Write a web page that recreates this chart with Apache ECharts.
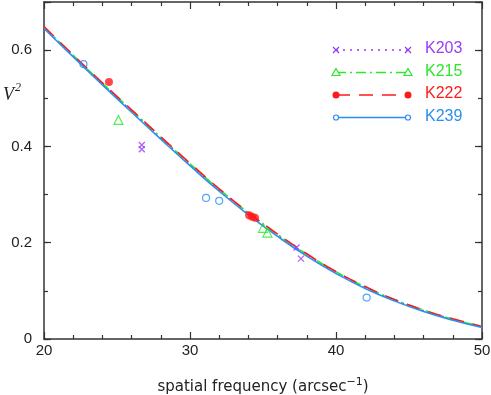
<!DOCTYPE html>
<html>
<head>
<meta charset="utf-8">
<script src="https://cdn.jsdelivr.net/npm/echarts@6/dist/echarts.min.js"></script>
<style>
  html, body { margin: 0; padding: 0; background: #fff; }
  #chart { width: 491px; height: 395px; }
</style>
</head>
<body>
<div id="chart"></div>
<script>
// model curves, sampled every 2 arcsec^-1
const freq = [20, 22, 24, 26, 28, 30, 32, 34, 36, 38, 40, 42, 44, 46, 48, 50];
const k239Model = [0.645, 0.586, 0.528, 0.471, 0.415, 0.360, 0.307, 0.258, 0.213, 0.172, 0.136, 0.105, 0.079, 0.057, 0.039, 0.024];
const k222Model = [0.649, 0.590, 0.532, 0.476, 0.420, 0.365, 0.312, 0.263, 0.218, 0.177, 0.140, 0.109, 0.082, 0.060, 0.042, 0.026];
const k215Model = [0.648, 0.589, 0.531, 0.475, 0.419, 0.364, 0.311, 0.262, 0.217, 0.176, 0.140, 0.108, 0.082, 0.060, 0.041, 0.026];
const k203Model = [0.647, 0.588, 0.530, 0.474, 0.418, 0.363, 0.310, 0.261, 0.216, 0.175, 0.139, 0.107, 0.081, 0.059, 0.041, 0.025];

// measured points [freq, V^2]
const k203Obs = [[26.7, 0.403], [26.7, 0.394], [37.3, 0.190], [37.6, 0.167]];
const k215Obs = [[25.1, 0.455], [35.0, 0.231], [35.3, 0.221]];
const k222Obs = [[24.45, 0.534], [34.05, 0.257], [34.25, 0.254], [34.45, 0.252]];
const k239Obs = [[22.7, 0.571], [31.1, 0.293], [32.0, 0.287], [42.1, 0.086]];

const names = ['K203', 'K215', 'K222', 'K239'];
const colors = ['#9b3cf5', '#2ee62e', '#ff1a1a', '#2a8ff0'];

const axisColor = '#333';
const font = 'Liberation Sans, Arial, sans-serif';

function pairs(ys) {
  return freq.map((f, i) => [f, ys[i]]);
}

const crossPath = 'path://M0,0L10,10M10,0L0,10';

function xAxisCfg(pos) {
  return {
    type: 'value', min: 20, max: 50, interval: 10, position: pos,
    axisLine: { show: true, onZero: false, lineStyle: { color: axisColor, width: 1.5 } },
    axisTick: { show: true, inside: true, length: 7, lineStyle: { color: axisColor, width: 1.2 } },
    minorTick: { show: true, splitNumber: 5, length: 4, lineStyle: { color: axisColor, width: 1.2 } },
    splitLine: { show: false },
    axisLabel: pos === 'bottom'
      ? { show: true, fontSize: 15, color: '#222', fontFamily: font, margin: 4 }
      : { show: false }
  };
}

function yAxisCfg(pos, step, len, labels) {
  return {
    type: 'value', min: 0, max: 0.7, interval: step, position: pos,
    axisLine: { show: step === 0.2, onZero: false, lineStyle: { color: axisColor, width: 1.5 } },
    axisTick: { show: true, inside: true, length: len, lineStyle: { color: axisColor, width: 1.2 } },
    splitLine: { show: false },
    axisLabel: labels ? {
      show: true, fontSize: 15, color: '#222', fontFamily: font, margin: 12,
      formatter: v => (v > 0.65 ? '' : (v === 0 ? '0' : v.toFixed(1)))
    } : { show: false }
  };
}

// legend drawn by hand: line with a marker at both ends
const legendGraphics = [];
const legendDash = [[2, 5], [10, 4, 2, 4], [14, 9], null];
names.forEach((n, i) => {
  const y = 50 + i * 22.5;
  const x0 = 336, x1 = 408;
  legendGraphics.push({
    type: 'line', shape: { x1: x0, y1: y, x2: x1, y2: y },
    style: { stroke: colors[i], lineWidth: i === 0 ? 1.5 : 1.6, lineDash: legendDash[i] }
  });
  [x0, x1].forEach(x => {
    if (i === 0) {
      legendGraphics.push({ type: 'line', shape: { x1: x - 3, y1: y - 3, x2: x + 3, y2: y + 3 }, style: { stroke: colors[i], lineWidth: 1.2 } });
      legendGraphics.push({ type: 'line', shape: { x1: x - 3, y1: y + 3, x2: x + 3, y2: y - 3 }, style: { stroke: colors[i], lineWidth: 1.2 } });
    } else if (i === 1) {
      legendGraphics.push({ type: 'polygon', shape: { points: [[x, y - 4], [x + 4, y + 3], [x - 4, y + 3]] }, style: { fill: '#fff', stroke: colors[i], lineWidth: 1.2 } });
    } else if (i === 2) {
      legendGraphics.push({ type: 'circle', shape: { cx: x, cy: y, r: 3.5 }, style: { fill: colors[i] } });
    } else {
      legendGraphics.push({ type: 'circle', shape: { cx: x, cy: y, r: 2.5 }, style: { fill: '#fff', stroke: colors[i], lineWidth: 1.2 } });
    }
  });
  legendGraphics.push({
    type: 'text', left: 425, top: y - 9,
    style: { text: n, fill: colors[i], font: '16px ' + font }
  });
});

// y axis title V^2
legendGraphics.push({
  type: 'text', left: 3, top: 86,
  style: { text: 'V', fill: '#222', font: 'italic 18px Liberation Serif, serif' }
});
legendGraphics.push({
  type: 'text', left: 15, top: 82,
  style: { text: '2', fill: '#222', font: 'italic 12px Liberation Serif, serif' }
});

function modelSeries(i, data, lineType, width) {
  return {
    name: names[i] + ' model', type: 'line', data: pairs(data), smooth: true,
    showSymbol: false, xAxisIndex: 0, yAxisIndex: 0,
    lineStyle: { color: colors[i], width: width, type: lineType },
    z: 2 + i, silent: true
  };
}

const option = {
  animation: false,
  backgroundColor: '#fff',
  grid: { left: 44, right: 9, top: 2, bottom: 56, containLabel: false, outerBoundsMode: 'none' },
  xAxis: [
    Object.assign(xAxisCfg('bottom'), {
      name: '{a|spatial frequency (arcsec}{s|−1}{a|)}',
      nameLocation: 'middle', nameGap: 38,
      nameTextStyle: {
        rich: {
          a: { fontSize: 15, color: '#222', fontFamily: 'DejaVu Sans, sans-serif' },
          s: { fontSize: 11, color: '#222', fontFamily: 'DejaVu Sans, sans-serif', padding: [0, 0, 9, 0] }
        }
      }
    }),
    xAxisCfg('top')
  ],
  yAxis: [
    yAxisCfg('left', 0.2, 7, true),
    yAxisCfg('left', 0.1, 4, false),
    yAxisCfg('right', 0.2, 7, false),
    yAxisCfg('right', 0.1, 4, false)
  ],
  graphic: legendGraphics,
  series: [
    modelSeries(3, k239Model, 'solid', 1.6),
    modelSeries(0, k203Model, [2, 5], 1.5),
    modelSeries(1, k215Model, [10, 4, 2, 4], 1.6),
    modelSeries(2, k222Model, [14, 9], 1.6),
    {
      name: 'K203', type: 'scatter', data: k203Obs, symbol: crossPath, symbolSize: 6,
      itemStyle: { color: colors[0], borderColor: colors[0], borderWidth: 1.3 }, z: 10
    },
    {
      name: 'K215', type: 'scatter', data: k215Obs, symbol: 'triangle', symbolSize: 9,
      itemStyle: { color: 'rgba(255,255,255,0)', borderColor: colors[1], borderWidth: 1.2 }, z: 10
    },
    {
      name: 'K222', type: 'scatter', data: k222Obs, symbol: 'circle', symbolSize: 8,
      itemStyle: { color: colors[2] }, z: 10
    },
    {
      name: 'K239', type: 'scatter', data: k239Obs, symbol: 'circle', symbolSize: 7,
      itemStyle: { color: 'rgba(255,255,255,0)', borderColor: colors[3], borderWidth: 1.2 }, z: 10
    }
  ]
};

const chart = echarts.init(document.getElementById('chart'));
chart.setOption(option);
</script>
</body>
</html>
